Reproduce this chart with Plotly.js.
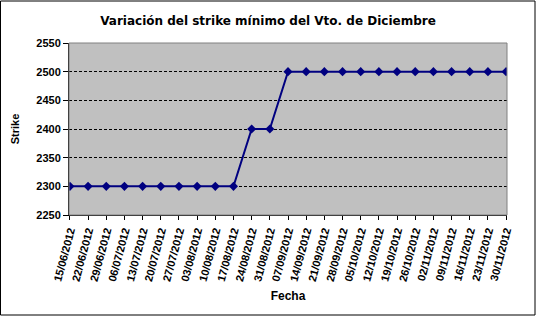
<!DOCTYPE html>
<html><head><meta charset="utf-8">
<script src="https://cdn.plot.ly/plotly-3.0.1.min.js"></script>
<style>html,body{margin:0;padding:0;background:#fff}#chart{width:536px;height:316px}</style>
</head><body><div id="chart"></div>
<script>
const fechas = ["15/06/2012","22/06/2012","29/06/2012","06/07/2012","13/07/2012","20/07/2012","27/07/2012","03/08/2012","10/08/2012","17/08/2012","24/08/2012","31/08/2012","07/09/2012","14/09/2012","21/09/2012","28/09/2012","05/10/2012","12/10/2012","19/10/2012","26/10/2012","02/11/2012","09/11/2012","16/11/2012","23/11/2012","30/11/2012"];
const strike = [2300,2300,2300,2300,2300,2300,2300,2300,2300,2300,2400,2400,2500,2500,2500,2500,2500,2500,2500,2500,2500,2500,2500,2500,2500];
const yTicks = [2250,2300,2350,2400,2450,2500,2550];

const idx = fechas.map((_, i) => i);
const trace = {
  x: idx, y: strike, type: 'scatter', mode: 'lines+markers',
  line: {color: '#000080', width: 2},
  marker: {symbol: 'diamond', size: 7, color: '#000080'},
  hoverinfo: 'skip'
};
const layout = {
  width: 536, height: 316,
  margin: {l: 69, r: 29, t: 43, b: 101},
  paper_bgcolor: '#fff', plot_bgcolor: '#C0C0C0',
  font: {family: 'Arial, Liberation Sans, sans-serif', size: 10, color: '#000'},
  title: {text: '<b>Variación del strike mínimo del Vto. de Diciembre</b>', x: 0.5, xanchor: 'center', y: 0.935, yanchor: 'middle', font: {size: 12, family: 'DejaVu Sans, sans-serif'}},
  showlegend: false,
  xaxis: {
    range: [-0.05, 24.05], tickvals: idx, ticktext: fechas.map(s => '<b>' + s + '</b>'),
    tickangle: -75, ticks: 'outside', ticklen: 4, tickcolor: '#000',
    showgrid: false, zeroline: false, showline: true, linecolor: '#000', linewidth: 1,
    tickfont: {size: 11},
    title: {text: '<b>Fecha</b>', font: {size: 12}, standoff: 9}
  },
  yaxis: {
    range: [2250, 2550], tickvals: yTicks, ticktext: yTicks.map(v => '<b>' + v + '</b>'),
    ticks: 'outside', ticklen: 5, tickcolor: '#000',
    showgrid: true, gridcolor: '#000', griddash: '3px,2px', gridwidth: 1,
    zeroline: false, showline: true, linecolor: '#000', linewidth: 1,
    tickfont: {size: 11},
    title: {text: '<b>Strike</b>', font: {size: 11}, standoff: 14}
  },
  shapes: [
    {type: 'rect', xref: 'paper', yref: 'paper', x0: 0, x1: 1, y0: 0, y1: 1, line: {color: '#808080', width: 1}, layer: 'above'},
    {type: 'rect', xref: 'paper', yref: 'paper', x0: -68.5/438, x1: 1 + 28/438, y0: -100/172, y1: 1 + 42/172, line: {color: '#000', width: 1}}
  ]
};
Plotly.newPlot('chart', [trace], layout, {staticPlot: true, displayModeBar: false});
</script></body></html>
